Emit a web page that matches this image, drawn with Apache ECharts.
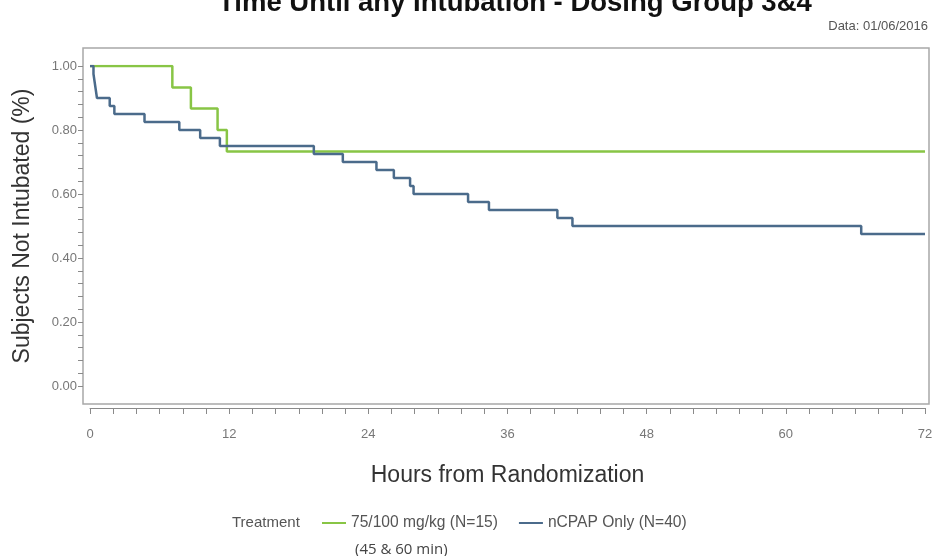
<!DOCTYPE html>
<html>
<head>
<meta charset="utf-8">
<script src="https://cdn.jsdelivr.net/npm/echarts@6/dist/echarts.min.js"></script>
<style>html,body{margin:0;padding:0;background:#fff;}#c{width:942px;height:556px;}</style>
</head>
<body>
<div id="c"></div>
<script>
// Kaplan-Meier step data (hours, proportion not intubated)
var greenTimes  = [0, 7.1, 8.7, 11.0, 11.8, 72];
var greenValues = [1.0, 0.933, 0.867, 0.800, 0.733, 0.733];
var blueTimes  = [0, 0.3, 0.4, 0.5, 0.6, 1.7, 2.1, 4.7, 7.7, 9.5, 11.2, 19.3, 21.8, 24.7, 26.2, 27.6, 27.9, 32.6, 34.4, 40.3, 41.6, 66.5, 72];
var blueValues = [1.0, 0.975, 0.95, 0.925, 0.9, 0.875, 0.85, 0.825, 0.8, 0.775, 0.75, 0.725, 0.7, 0.675, 0.65, 0.625, 0.6, 0.575, 0.55, 0.525, 0.5, 0.475, 0.475];
var seriesNames = ['75/100 mg/kg (N=15)', 'nCPAP Only (N=40)'];
var xTickLabels = [0, 12, 24, 36, 48, 60, 72];
var yTickLabels = [0, 0.2, 0.4, 0.6, 0.8, 1.0];

function pairs(t, v) { return t.map(function (x, i) { return [x, v[i]]; }); }

var font = 'Liberation Sans, Arial, sans-serif';
var tickColor = '#8a8a8a';
var chart = echarts.init(document.getElementById('c'));
chart.setOption({
  animation: false,
  backgroundColor: '#fff',
  title: [
    { text: 'Time Until any Intubation - Dosing Group 3&4', left: 213, top: -16,
      textStyle: { fontSize: 27.5, fontWeight: 'bold', color: '#111', fontFamily: font } },
    { text: 'Data: 01/06/2016', right: 9, top: 15,
      textStyle: { fontSize: 13, fontWeight: 'normal', color: '#555', fontFamily: font } },
    { text: 'Treatment', left: 227, top: 510,
      textStyle: { fontSize: 15, fontWeight: 'normal', color: '#555', fontFamily: font } },
    { text: '(45 & 60 min)', left: 350, top: 537,
      textStyle: { fontSize: 15, fontWeight: 'normal', color: '#444', fontFamily: 'Open Sans, sans-serif' } }
  ],
  legend: {
    data: seriesNames,
    left: 317, top: 510,
    icon: 'rect', itemWidth: 24, itemHeight: 2, itemGap: 21,
    textStyle: { fontSize: 15.6, color: '#555', fontFamily: font }
  },
  grid: [
    // 0: data area
    { left: 90, right: 17, top: 66, bottom: 170, show: false },
    // 1: frame box
    { left: 83, right: 13, top: 48, bottom: 152, show: true, borderColor: '#a8a8a8', borderWidth: 1.5, backgroundColor: 'transparent' },
    // 2: x axis (below the frame)
    { left: 90, right: 17, top: 66, bottom: 148, show: false },
    // 3: y axis (on the frame's left edge)
    { left: 83, right: 17, top: 66, bottom: 170, show: false }
  ],
  xAxis: [
    { type: 'value', gridIndex: 0, show: false, min: 0, max: 72 },
    { type: 'value', gridIndex: 1, show: false, min: 0, max: 1 },
    { type: 'value', gridIndex: 2, min: 0, max: 72, interval: 12,
      name: 'Hours from Randomization', nameLocation: 'middle', nameGap: 56,
      nameTextStyle: { fontSize: 23, color: '#333', fontFamily: font },
      axisLine: { show: true, lineStyle: { color: tickColor, width: 1 } },
      axisTick: { show: true, length: 6, lineStyle: { color: tickColor } },
      minorTick: { show: true, splitNumber: 6, length: 6, lineStyle: { color: tickColor } },
      splitLine: { show: false }, minorSplitLine: { show: false },
      axisLabel: { color: '#777', fontSize: 13, margin: 20, fontFamily: font,
        formatter: function (v) { return xTickLabels.indexOf(v) >= 0 ? String(v) : ''; } } },
    { type: 'value', gridIndex: 3, show: false, min: 0, max: 1 }
  ],
  yAxis: [
    { type: 'value', gridIndex: 0, show: false, min: 0, max: 1 },
    { type: 'value', gridIndex: 1, show: false, min: 0, max: 1 },
    { type: 'value', gridIndex: 2, show: false, min: 0, max: 1 },
    { type: 'value', gridIndex: 3, min: 0, max: 1, interval: 0.2,
      name: 'Subjects Not Intubated (%)', nameLocation: 'middle', nameGap: 49,
      nameTextStyle: { fontSize: 23, color: '#333', fontFamily: font },
      axisLine: { show: false },
      axisTick: { show: true, length: 5, lineStyle: { color: tickColor } },
      minorTick: { show: true, splitNumber: 5, length: 5, lineStyle: { color: tickColor } },
      splitLine: { show: false }, minorSplitLine: { show: false },
      axisLabel: { color: '#777', fontSize: 13, margin: 6, fontFamily: font,
        formatter: function (v) { return yTickLabels.indexOf(Math.round(v * 10) / 10) >= 0 ? v.toFixed(2) : ''; } } }
  ],
  series: [
    { name: seriesNames[0], type: 'line', step: 'end', xAxisIndex: 0, yAxisIndex: 0,
      data: pairs(greenTimes, greenValues), showSymbol: false, symbol: 'none',
      itemStyle: { color: '#88c545' }, lineStyle: { color: '#88c545', width: 2.5 } },
    { name: seriesNames[1], type: 'line', step: 'end', xAxisIndex: 0, yAxisIndex: 0,
      data: pairs(blueTimes, blueValues), showSymbol: false, symbol: 'none',
      itemStyle: { color: '#4b6b8b' }, lineStyle: { color: '#4b6b8b', width: 2.5 } }
  ]
});
</script>
</body>
</html>
